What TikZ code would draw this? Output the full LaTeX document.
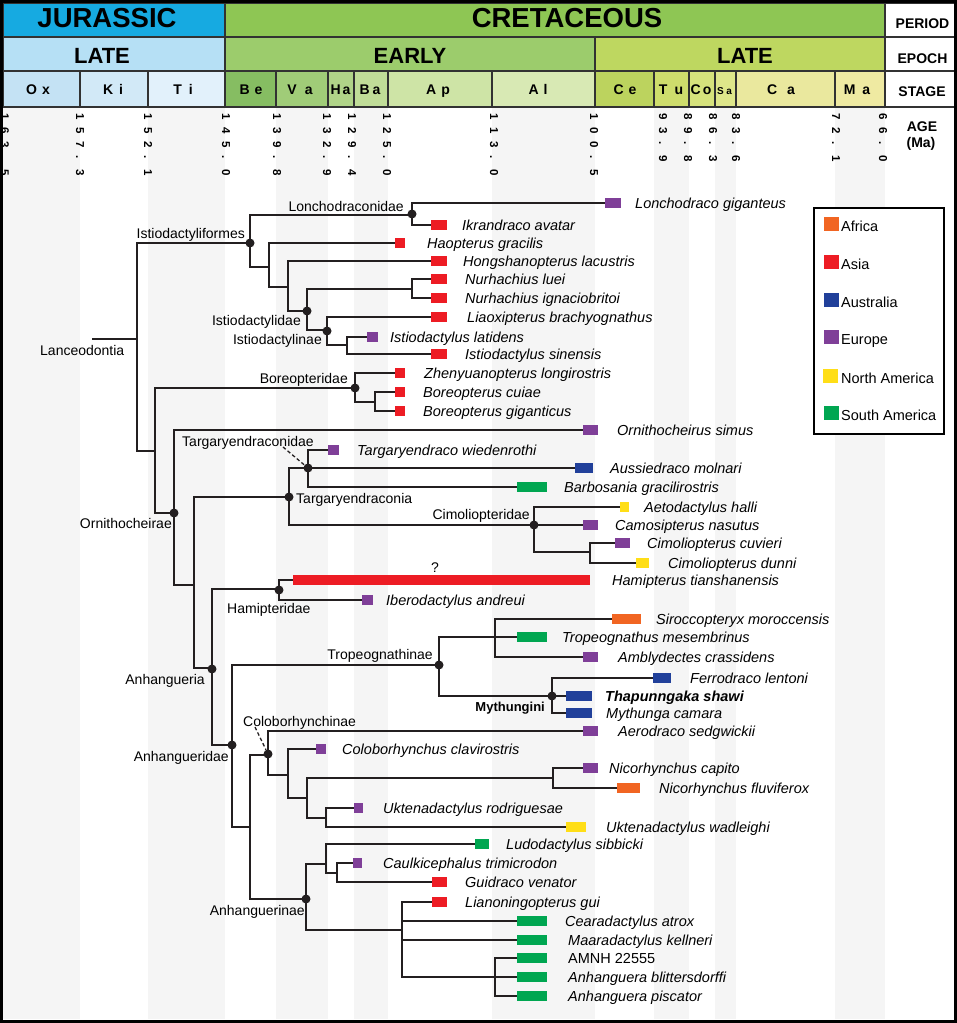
\documentclass[tikz,border=0pt]{standalone}
\usepackage{fontspec}
\setmainfont{Liberation Sans}
\definecolor{lc}{RGB}{35,31,32}
\definecolor{hdl}{RGB}{50,50,50}
\definecolor{cAf}{RGB}{241,101,34}
\definecolor{cAs}{RGB}{237,28,36}
\definecolor{cAu}{RGB}{33,64,154}
\definecolor{cEu}{RGB}{127,63,152}
\definecolor{cNa}{RGB}{255,222,23}
\definecolor{cSa}{RGB}{0,166,81}
\definecolor{stripe}{RGB}{245,245,245}
\definecolor{jur}{RGB}{22,170,225}
\definecolor{jlate}{RGB}{182,224,245}
\definecolor{sOx}{RGB}{196,226,244}
\definecolor{sKi}{RGB}{210,233,247}
\definecolor{sTi}{RGB}{226,241,251}
\definecolor{cre}{RGB}{142,198,84}
\definecolor{kearly}{RGB}{156,204,108}
\definecolor{sBe}{RGB}{134,189,98}
\definecolor{sVa}{RGB}{160,204,120}
\definecolor{sHa}{RGB}{176,212,136}
\definecolor{sBa}{RGB}{192,221,152}
\definecolor{sAp}{RGB}{206,228,166}
\definecolor{sAl}{RGB}{216,233,180}
\definecolor{klate}{RGB}{190,215,96}
\definecolor{sCe}{RGB}{188,211,94}
\definecolor{sTu}{RGB}{206,221,108}
\definecolor{sCo}{RGB}{214,226,124}
\definecolor{sSa}{RGB}{222,230,138}
\definecolor{sCa}{RGB}{234,232,158}
\definecolor{sMa}{RGB}{239,234,162}
\newcommand\agc[1]{\makebox[14pt][l]{#1}}
\newcommand\sgap[3]{#1\hspace{#3pt}#2}
\newcommand\leaf[7]{%
  \node[sw, fill=#4, minimum width=#3pt] (#1) at (#2,#5) {};
  \node[tx] (#1t) at (#6,#5+5.5) {#7};}
\begin{document}
\begin{tikzpicture}[x=1pt,y=-1pt,
  br/.style={draw=lc, line width=2pt},
  dot/.style={circle, fill=lc, inner sep=0pt, minimum size=9pt},
  sw/.style={rectangle, inner sep=0pt, minimum height=10pt, anchor=west},
  tx/.style={inner sep=0pt, anchor=base west, font=\fontsize{14.5}{16}\selectfont\itshape},
  cl/.style={inner sep=0pt, font=\fontsize{14}{16}\selectfont},
  hd/.style={draw=hdl, line width=1.6pt},
  agel/.style={rotate=-90, anchor=base west, inner sep=0pt, font=\fontsize{11.5}{12}\selectfont\bfseries},
  per/.style={inner sep=0pt, anchor=base, font=\fontsize{27.5}{30}\selectfont\bfseries},
  epo/.style={inner sep=0pt, anchor=base, font=\fontsize{22}{24}\selectfont\bfseries},
  stg/.style={inner sep=0pt, anchor=base, font=\fontsize{14}{16}\selectfont\bfseries},
  lab/.style={inner sep=0pt, anchor=base, font=\fontsize{14}{16}\selectfont\bfseries},
  lsw/.style={rectangle, inner sep=0pt, minimum width=15pt, minimum height=14pt, anchor=west},
  lt/.style={inner sep=0pt, anchor=base west, font=\fontsize{14.5}{16}\selectfont},
  dsh/.style={draw=lc, line width=1.3pt, dash pattern=on 3.5pt off 2.5pt}]
\useasboundingbox (0,0) rectangle (957,1023);
\fill[white] (0,0) rectangle (957,1023);
% stripes
\foreach \a/\b in {3/80,148/225,276/328,354/388,492/595,654/689,715/736,835/885}
  \fill[stripe] (\a,107) rectangle (\b,1019);
% header: period
\draw[hd, fill=jur] (3,3) rectangle (225,37);
\draw[hd, fill=cre] (225,3) rectangle (885,37);
\draw[hd, fill=white] (885,3) rectangle (955,37);
% epoch
\draw[hd, fill=jlate] (3,37) rectangle (225,71);
\draw[hd, fill=kearly] (225,37) rectangle (595,71);
\draw[hd, fill=klate] (595,37) rectangle (885,71);
\draw[hd, fill=white] (885,37) rectangle (955,71);
% stages
\draw[hd, fill=sOx] (3,71) rectangle (80,107);
\draw[hd, fill=sKi] (80,71) rectangle (148,107);
\draw[hd, fill=sTi] (148,71) rectangle (225,107);
\draw[hd, fill=sBe] (225,71) rectangle (276,107);
\draw[hd, fill=sVa] (276,71) rectangle (328,107);
\draw[hd, fill=sHa] (328,71) rectangle (354,107);
\draw[hd, fill=sBa] (354,71) rectangle (388,107);
\draw[hd, fill=sAp] (388,71) rectangle (492,107);
\draw[hd, fill=sAl] (492,71) rectangle (595,107);
\draw[hd, fill=sCe] (595,71) rectangle (654,107);
\draw[hd, fill=sTu] (654,71) rectangle (689,107);
\draw[hd, fill=sCo] (689,71) rectangle (715,107);
\draw[hd, fill=sSa] (715,71) rectangle (736,107);
\draw[hd, fill=sCa] (736,71) rectangle (835,107);
\draw[hd, fill=sMa] (835,71) rectangle (885,107);
\draw[hd, fill=white] (885,71) rectangle (955,107);
% header texts
\node[per] (tJur) at (107,27.3) {JURASSIC};
\node[per] (tCre) at (567,27.3) {CRETACEOUS};
\node[epo] (tJL) at (102,63.3) {LATE};
\node[epo] (tKE) at (410,63.3) {EARLY};
\node[epo] (tKL) at (745,63.3) {LATE};
\node[stg] (tOx) at (38,94.5) {\sgap{O}{x}{5}};
\node[stg] (tKi) at (113,94.5) {\sgap{K}{i}{6}};
\node[stg] (tTi) at (183,94.5) {\sgap{T}{i}{7}};
\node[stg] (tBe) at (251,94.5) {\sgap{B}{e}{5}};
\node[stg] (tVa) at (300,94.5) {\sgap{V}{a}{8}};
\node[stg] (tHa) at (340.5,94.5) {\sgap{H}{a}{2}};
\node[stg] (tBa) at (370,94.5) {\sgap{B}{a}{3}};
\node[stg] (tAp) at (438,94.5) {\sgap{A}{p}{5}};
\node[stg] (tAl) at (538,94.5) {\sgap{A}{l}{5}};
\node[stg] (tCe) at (625,94.5) {\sgap{C}{e}{5}};
\node[stg] (tTu) at (671,94.5) {\sgap{T}{u}{7}};
\node[stg] (tCo) at (701,94.5) {\sgap{C}{o}{2}};
\node[stg, font=\fontsize{10}{11}\selectfont\bfseries] (tSa) at (724.5,94) {\sgap{S}{a}{2.5}};
\node[stg] (tCa) at (781,94.5) {\sgap{C}{a}{10}};
\node[stg] (tMa) at (857,94.5) {\sgap{M}{a}{7}};
\node[lab] (tPer) at (922.5,28.3) {PERIOD};
\node[lab] (tEpo) at (922.5,63.3) {EPOCH};
\node[lab] (tStg) at (922,96) {STAGE};
\node[lab] (tAge) at (922,131.7) {AGE};
\node[lab] (tMa2) at (921,147.5) {(Ma)};
% ages
\node[agel] (g1) at (1,113) {\agc1\agc6\agc3\agc.\agc5};
\node[agel] (g2) at (76,113) {\agc1\agc5\agc7\agc.\agc3};
\node[agel] (g3) at (144,113) {\agc1\agc5\agc2\agc.\agc1};
\node[agel] (g4) at (222,113) {\agc1\agc4\agc5\agc.\agc0};
\node[agel] (g5) at (273,113) {\agc1\agc3\agc9\agc.\agc8};
\node[agel] (g6) at (323,113) {\agc1\agc3\agc2\agc.\agc9};
\node[agel] (g7) at (348,113) {\agc1\agc2\agc9\agc.\agc4};
\node[agel] (g8) at (383,113) {\agc1\agc2\agc5\agc.\agc0};
\node[agel] (g9) at (490,113) {\agc1\agc1\agc3\agc.\agc0};
\node[agel] (g10) at (590,113) {\agc1\agc0\agc0\agc.\agc5};
\node[agel] (g11) at (659,113) {\agc9\agc3\agc.\agc9};
\node[agel] (g12) at (684,113) {\agc8\agc9\agc.\agc8};
\node[agel] (g13) at (709,113) {\agc8\agc6\agc.\agc3};
\node[agel] (g14) at (732,113) {\agc8\agc3\agc.\agc6};
\node[agel] (g15) at (832,113) {\agc7\agc2\agc.\agc1};
\node[agel] (g16) at (879,113) {\agc6\agc6\agc.\agc0};
% legend
\draw[draw=black, line width=2pt, fill=white] (814,208) rectangle (944,434);
\node[lsw, fill=cAf] (kAf) at (824,224) {};
\node[lt] (kAft) at (841,231) {Africa};
\node[lsw, fill=cAs] (kAs) at (824,262) {};
\node[lt] (kAst) at (841,269) {Asia};
\node[lsw, fill=cAu] (kAu) at (824,300) {};
\node[lt] (kAut) at (841,307) {Australia};
\node[lsw, fill=cEu] (kEu) at (824,337) {};
\node[lt] (kEut) at (841,344) {Europe};
\node[lsw, fill=cNa] (kNa) at (823,376) {};
\node[lt] (kNat) at (841,383) {North America};
\node[lsw, fill=cSa] (kSa) at (824,413) {};
\node[lt] (kSat) at (841,420) {South America};
% leaves
\leaf{lonch}{605}{16}{cEu}{203}{635}{Lonchodraco giganteus}
\leaf{ikra}{431}{16}{cAs}{225}{462}{Ikrandraco avatar}
\leaf{haop}{395}{10}{cAs}{243}{427}{Haopterus gracilis}
\leaf{hong}{431}{16}{cAs}{261}{463}{Hongshanopterus lacustris}
\leaf{nurl}{431}{16}{cAs}{279}{465}{Nurhachius luei}
\leaf{nuri}{431}{16}{cAs}{298}{465}{Nurhachius ignaciobritoi}
\leaf{liao}{431}{16}{cAs}{317}{467}{Liaoxipterus brachyognathus}
\leaf{istl}{367}{11}{cEu}{337}{390}{Istiodactylus latidens}
\leaf{ists}{431}{16}{cAs}{354}{465}{Istiodactylus sinensis}
\leaf{zhen}{395}{10}{cAs}{373}{424}{Zhenyuanopterus longirostris}
\leaf{borc}{395}{10}{cAs}{392}{423}{Boreopterus cuiae}
\leaf{borg}{395}{10}{cAs}{411}{423}{Boreopterus giganticus}
\leaf{orni}{583}{15}{cEu}{430}{617}{Ornithocheirus simus}
\leaf{targ}{328}{11}{cEu}{450}{357}{Targaryendraco wiedenrothi}
\leaf{auss}{575}{18}{cAu}{468}{610}{Aussiedraco molnari}
\leaf{barb}{517}{30}{cSa}{487}{564}{Barbosania gracilirostris}
\leaf{aeto}{620}{9}{cNa}{507}{644}{Aetodactylus halli}
\leaf{camo}{583}{15}{cEu}{525}{615}{Camosipterus nasutus}
\leaf{cimc}{615}{15}{cEu}{543}{647}{Cimoliopterus cuvieri}
\leaf{cimd}{636}{13}{cNa}{563}{668}{Cimoliopterus dunni}
\leaf{hami}{293}{297}{cAs}{580}{612}{Hamipterus tianshanensis}
\leaf{iber}{362}{11}{cEu}{600}{386}{Iberodactylus andreui}
\leaf{siro}{612}{29}{cAf}{619}{656}{Siroccopteryx moroccensis}
\leaf{trop}{517}{30}{cSa}{637}{562}{Tropeognathus mesembrinus}
\leaf{ambl}{583}{15}{cEu}{657}{618}{Amblydectes crassidens}
\leaf{ferr}{653}{18}{cAu}{678}{690}{Ferrodraco lentoni}
\leaf{thap}{566}{26}{cAu}{696}{605}{\bfseries Thapunngaka shawi}
\leaf{myth}{566}{26}{cAu}{713}{606}{Mythunga camara}
\leaf{aero}{583}{15}{cEu}{731}{618}{Aerodraco sedgwickii}
\leaf{colo}{316}{10}{cEu}{749}{342}{Coloborhynchus clavirostris}
\leaf{nicc}{583}{15}{cEu}{768}{609}{Nicorhynchus capito}
\leaf{nicf}{617}{23}{cAf}{788}{659}{Nicorhynchus fluviferox}
\leaf{uktr}{354}{9}{cEu}{808}{383}{Uktenadactylus rodriguesae}
\leaf{uktw}{566}{20}{cNa}{827}{606}{Uktenadactylus wadleighi}
\leaf{ludo}{475}{14}{cSa}{844}{506}{Ludodactylus sibbicki}
\leaf{caul}{353}{9}{cEu}{863}{383}{Caulkicephalus trimicrodon}
\leaf{guid}{432}{15}{cAs}{882}{465}{Guidraco venator}
\leaf{lian}{432}{15}{cAs}{902}{465}{Lianoningopterus gui}
\leaf{cear}{517}{30}{cSa}{921}{565}{Cearadactylus atrox}
\leaf{maar}{517}{30}{cSa}{940}{568}{Maaradactylus kellneri}
\leaf{amnh}{517}{30}{cSa}{958}{568}{\upshape AMNH 22555}
\leaf{anhb}{517}{30}{cSa}{977}{568}{Anhanguera blittersdorffi}
\leaf{anhp}{517}{30}{cSa}{996}{568}{Anhanguera piscator}
\node[inner sep=0pt, anchor=base, font=\fontsize{14}{16}\selectfont] (qm) at (435,572) {?};
% internal nodes
\coordinate (root) at (92,339);
\coordinate (nLan) at (137,339);
\coordinate (nIsf) at (250,243);
\coordinate (nLon) at (412,215);
\coordinate (nA) at (269,267);
\coordinate (nB) at (288,287);
\coordinate (nIdd) at (307,311);
\coordinate (nNur) at (412,289);
\coordinate (nIdn) at (327,330);
\coordinate (nIst) at (347,345);
\coordinate (nC) at (155,451);
\coordinate (nBor) at (355,388);
\coordinate (nBo2) at (375,402);
\coordinate (nOrn) at (174,513);
\coordinate (nD) at (194,585);
\coordinate (nTga) at (289,497);
\coordinate (nTgd) at (308,468);
\coordinate (nCim) at (534,525);
\coordinate (nCi2) at (590,552);
\coordinate (nAnh) at (212,668);
\coordinate (nHam) at (279,589);
\coordinate (nAde) at (232,745);
\coordinate (nTro) at (439,665);
\coordinate (nF) at (495,637);
\coordinate (nMyt) at (552,696);
\coordinate (nE) at (250,827);
\coordinate (nCol) at (268,755);
\coordinate (nG) at (288,775);
\coordinate (nH) at (307,798);
\coordinate (nNic) at (553,778);
\coordinate (nI) at (326,818);
\coordinate (nAne) at (306,899);
\coordinate (nJ) at (326,864);
\coordinate (nL) at (337,873);
\coordinate (nK) at (402,930);
\coordinate (nAng) at (495,977);
% branches
\draw[br] (root) -- (nLan);
\draw[br] (nLan) |- (nIsf); \draw[br] (nLan) |- (nC);
\draw[br] (nIsf) |- (nLon); \draw[br] (nIsf) |- (nA);
\draw[br] (nLon) |- (lonch.west); \draw[br] (nLon) |- (ikra.west);
\draw[br] (nA) |- (haop.west); \draw[br] (nA) |- (nB);
\draw[br] (nB) |- (hong.west); \draw[br] (nB) |- (nIdd);
\draw[br] (nIdd) |- (nNur); \draw[br] (nIdd) |- (nIdn);
\draw[br] (nNur) |- (nurl.west); \draw[br] (nNur) |- (nuri.west);
\draw[br] (nIdn) |- (liao.west); \draw[br] (nIdn) |- (nIst);
\draw[br] (nIst) |- (istl.west); \draw[br] (nIst) |- (ists.west);
\draw[br] (nC) |- (nBor); \draw[br] (nC) |- (nOrn);
\draw[br] (nBor) |- (zhen.west); \draw[br] (nBor) |- (nBo2);
\draw[br] (nBo2) |- (borc.west); \draw[br] (nBo2) |- (borg.west);
\draw[br] (nOrn) |- (orni.west); \draw[br] (nOrn) |- (nD);
\draw[br] (nD) |- (nTga); \draw[br] (nD) |- (nAnh);
\draw[br] (nTga) |- (nTgd); \draw[br] (nTga) |- (nCim);
\draw[br] (nTgd) |- (targ.west); \draw[br] (nTgd) |- (auss.west); \draw[br] (nTgd) |- (barb.west);
\draw[br] (nCim) |- (aeto.west); \draw[br] (nCim) |- (camo.west); \draw[br] (nCim) |- (nCi2);
\draw[br] (nCi2) |- (cimc.west); \draw[br] (nCi2) |- (cimd.west);
\draw[br] (nAnh) |- (nHam); \draw[br] (nAnh) |- (nAde);
\draw[br] (nHam) |- (hami.west); \draw[br] (nHam) |- (iber.west);
\draw[br] (nAde) |- (nTro); \draw[br] (nAde) |- (nE);
\draw[br] (nTro) |- (nF); \draw[br] (nTro) |- (nMyt);
\draw[br] (nF) |- (siro.west); \draw[br] (nF) |- (trop.west); \draw[br] (nF) |- (ambl.west);
\draw[br] (nMyt) |- (ferr.west); \draw[br] (nMyt) |- (thap.west); \draw[br] (nMyt) |- (myth.west);
\draw[br] (nE) |- (nCol); \draw[br] (nE) |- (nAne);
\draw[br] (nCol) |- (aero.west); \draw[br] (nCol) |- (nG);
\draw[br] (nG) |- (colo.west); \draw[br] (nG) |- (nH);
\draw[br] (nH) |- (nNic); \draw[br] (nH) |- (nI);
\draw[br] (nNic) |- (nicc.west); \draw[br] (nNic) |- (nicf.west);
\draw[br] (nI) |- (uktr.west); \draw[br] (nI) |- (uktw.west);
\draw[br] (nAne) |- (nJ); \draw[br] (nAne) |- (nK);
\draw[br] (nJ) |- (ludo.west); \draw[br] (nJ) |- (nL);
\draw[br] (nL) |- (caul.west); \draw[br] (nL) |- (guid.west);
\draw[br] (nK) |- (lian.west); \draw[br] (nK) |- (cear.west); \draw[br] (nK) |- (maar.west); \draw[br] (nK) |- (nAng);
\draw[br] (nAng) |- (amnh.west); \draw[br] (nAng) |- (anhb.west); \draw[br] (nAng) |- (anhp.west);
% dots
\node[dot] (dLon) at (412,214) {};
\node[dot] (dIsf) at (nIsf) {};
\node[dot] (dIdd) at (nIdd) {};
\node[dot] (dIdn) at (327,331) {};
\node[dot] (dBor) at (nBor) {};
\node[dot] (dOrn) at (nOrn) {};
\node[dot] (dTgd) at (nTgd) {};
\node[dot] (dTga) at (nTga) {};
\node[dot] (dCim) at (nCim) {};
\node[dot] (dHam) at (279,590) {};
\node[dot] (dAnh) at (212,669) {};
\node[dot] (dTro) at (nTro) {};
\node[dot] (dMyt) at (nMyt) {};
\node[dot] (dAde) at (nAde) {};
\node[dot] (dCol) at (268,754) {};
\node[dot] (dAne) at (nAne) {};
% clade labels
\node[cl, anchor=base east] (lLon) at (404,211) {Lonchodraconidae};
\node[cl, anchor=base east] (lIsf) at (245,238) {Istiodactyliformes};
\node[cl, anchor=base east] (lIdd) at (301,325) {Istiodactylidae};
\node[cl, anchor=base east] (lIdn) at (322,344) {Istiodactylinae};
\node[cl, anchor=base west] (lLan) at (40,355) {Lanceodontia};
\node[cl, anchor=base east] (lBor) at (348,383) {Boreopteridae};
\node[cl, anchor=base west] (lTgd) at (182,446) {Targaryendraconidae};
\node[cl, anchor=base west] (lTga) at (296,503) {Targaryendraconia};
\node[cl, anchor=base east] (lCim) at (530,519) {Cimoliopteridae};
\node[cl, anchor=base east] (lOrn) at (172,528) {Ornithocheirae};
\node[cl, anchor=base west] (lHam) at (227,613) {Hamipteridae};
\node[cl, anchor=base east] (lAnh) at (205,684) {Anhangueria};
\node[cl, anchor=base east] (lTro) at (433,659) {Tropeognathinae};
\node[cl, anchor=base east, font=\fontsize{13}{15}\selectfont\bfseries] (lMyt) at (545,711) {Mythungini};
\node[cl, anchor=base west] (lCol) at (243,726) {Coloborhynchinae};
\node[cl, anchor=base east] (lAde) at (229,761) {Anhangueridae};
\node[cl, anchor=base east] (lAne) at (305,915) {Anhanguerinae};
% dashed pointers
\coordinate (pTgd) at (283,447);
\coordinate (pCol) at (255,727);
\draw[dsh] (pTgd) -- (dTgd);
\draw[dsh] (pCol) -- (dCol);
% frame
\draw[black, line width=3pt] (1.5,1.5) rectangle (955.5,1021.5);
\end{tikzpicture}
\end{document}
